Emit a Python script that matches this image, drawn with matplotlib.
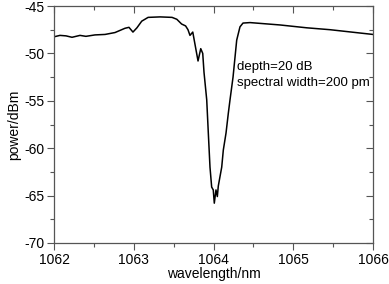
import matplotlib
matplotlib.use("Agg")
import matplotlib.pyplot as plt
from matplotlib.ticker import MultipleLocator

plt.rcParams['font.family'] = ['Liberation Sans', 'DejaVu Sans']
plt.rcParams['axes.unicode_minus'] = False

# transmission spectrum
wavelength = [1062.0, 1062.075, 1062.15, 1062.226, 1062.326, 1062.40, 1062.514, 1062.64,
              1062.765, 1062.89, 1062.94, 1062.99, 1063.04, 1063.10, 1063.18, 1063.33,
              1063.48, 1063.54, 1063.60, 1063.65, 1063.68, 1063.705, 1063.74, 1063.78,
              1063.806, 1063.84, 1063.865, 1063.881, 1063.915, 1063.935, 1063.956,
              1063.977, 1063.997, 1064.010, 1064.031, 1064.048, 1064.060, 1064.090,
              1064.103, 1064.123, 1064.157, 1064.186, 1064.207, 1064.245, 1064.291,
              1064.332, 1064.370, 1064.458, 1064.834, 1065.169, 1065.461, 1065.837, 1066.0]
power = [-48.25, -48.1, -48.15, -48.3, -48.1, -48.2, -48.05, -48.0,
         -47.8, -47.35, -47.25, -47.75, -47.3, -46.6, -46.2, -46.15,
         -46.2, -46.4, -46.9, -47.1, -47.5, -48.1, -47.75, -49.6,
         -50.8, -49.5, -50.0, -52.0, -54.9, -58.4, -62.0,
         -64.1, -64.4, -65.8, -64.4, -65.1, -64.0, -62.6,
         -62.0, -60.2, -58.4, -56.3, -54.9, -52.5, -48.6,
         -47.2, -46.8, -46.75, -47.0, -47.3, -47.5, -47.85, -48.0]

fig = plt.figure(figsize=(3.89, 2.84), dpi=100)
ax = fig.add_axes([54/389, 1 - 243/284, (373-54)/389, (243-6)/284])
ax.plot(wavelength, power, color='black', lw=1.1)

ax.set_xlim(1062, 1066)
ax.set_ylim(-70, -45)
ax.xaxis.set_major_locator(MultipleLocator(1))
ax.xaxis.set_minor_locator(MultipleLocator(0.5))
ax.yaxis.set_major_locator(MultipleLocator(5))
ax.yaxis.set_minor_locator(MultipleLocator(2.5))
ax.tick_params(which='both', direction='out', top=True, right=True, labelsize=10,
               color='#555555', width=0.8, pad=2)
ax.tick_params(which='major', length=5)
ax.tick_params(which='minor', length=3)
# mirrored ticks on top / right point into the frame
for t in ax.xaxis.get_major_ticks() + ax.xaxis.get_minor_ticks():
    t.tick2line.set_marker(3)
for t in ax.yaxis.get_major_ticks() + ax.yaxis.get_minor_ticks():
    t.tick2line.set_marker(0)
for s in ax.spines.values():
    s.set_color('#555555')
    s.set_linewidth(0.9)

ax.set_xlabel('wavelength/nm', fontsize=10, labelpad=0)
ax.set_ylabel('power/dBm', fontsize=10, labelpad=2)
ax.text(1064.29, -50.8, 'depth=20 dB\nspectral width=200 pm', fontsize=9.5,
        va='top', ha='left', linespacing=1.5)

fig.savefig('out.png', dpi=100)
